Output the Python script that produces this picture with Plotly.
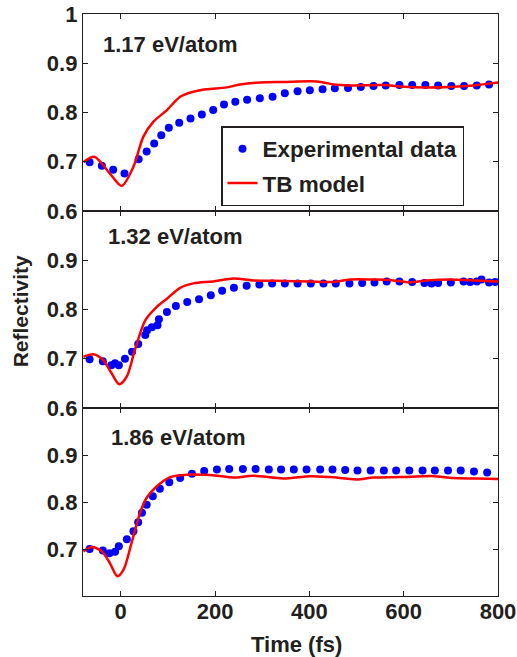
import plotly.graph_objects as go
from plotly.subplots import make_subplots

# ---------------- data ----------------
panel_labels = ["1.17 eV/atom", "1.32 eV/atom", "1.86 eV/atom"]

exp1_t = [-66, -40, -16, 8, 38, 55, 71, 86, 102, 124, 148, 172, 196, 219, 243, 268, 295, 322,
          348, 375, 401, 428, 454, 482, 509, 536, 562, 591, 618, 646, 673, 701, 728, 755, 781]
exp1_r = [0.699, 0.692, 0.684, 0.676, 0.705, 0.721, 0.737, 0.754, 0.769, 0.779, 0.788, 0.796,
          0.805, 0.816, 0.822, 0.826, 0.829, 0.832, 0.839, 0.843, 0.845, 0.847, 0.849, 0.850,
          0.852, 0.854, 0.855, 0.856, 0.856, 0.856, 0.855, 0.854, 0.854, 0.855, 0.857]
tb1_t = [-79, -56, -23, 2, 27, 48, 69, 98, 126, 154, 182, 225, 253, 295, 345, 416, 451, 486,
         557, 592, 649, 698, 748, 801]
tb1_r = [0.699, 0.710, 0.676, 0.651, 0.690, 0.751, 0.781, 0.805, 0.832, 0.842, 0.847, 0.851,
         0.857, 0.861, 0.862, 0.863, 0.857, 0.855, 0.856, 0.853, 0.851, 0.852, 0.855, 0.861]

exp2_t = [-66, -38, -20, -12, -4, 9, 24, 37, 52, 56, 66, 78, 81, 98, 117, 141, 166, 191, 215,
          240, 267, 294, 321, 348, 375, 403, 430, 456, 485, 512, 538, 564, 591, 618, 644, 659,
          673, 700, 727, 741, 755, 765, 781, 794]
exp2_r = [0.699, 0.695, 0.687, 0.691, 0.687, 0.700, 0.714, 0.730, 0.748, 0.758, 0.764, 0.768,
          0.780, 0.795, 0.807, 0.815, 0.821, 0.829, 0.838, 0.844, 0.848, 0.851, 0.853, 0.853,
          0.853, 0.853, 0.853, 0.853, 0.853, 0.854, 0.855, 0.857, 0.857, 0.856, 0.854, 0.853,
          0.854, 0.855, 0.857, 0.856, 0.857, 0.861, 0.855, 0.856]
tb2_t = [-79, -58, -37, -19, -3, 13, 30, 52, 76, 98, 126, 154, 196, 239, 281, 345, 401, 451,
         486, 535, 571, 613, 649, 698, 748, 801]
tb2_r = [0.704, 0.709, 0.697, 0.670, 0.648, 0.664, 0.718, 0.778, 0.805, 0.822, 0.844, 0.853,
         0.857, 0.863, 0.859, 0.858, 0.857, 0.856, 0.861, 0.861, 0.860, 0.855, 0.859, 0.861,
         0.859, 0.857]

exp3_t = [-66, -38, -24, -12, -4, 13, 27, 37, 45, 55, 68, 83, 103, 126, 151, 177, 204, 230,
          259, 286, 314, 340, 367, 394, 423, 449, 476, 502, 530, 558, 584, 612, 640, 666, 694,
          721, 749, 777]
exp3_r = [0.700, 0.697, 0.691, 0.694, 0.706, 0.721, 0.738, 0.757, 0.777, 0.794, 0.812, 0.828,
          0.842, 0.851, 0.860, 0.866, 0.869, 0.870, 0.870, 0.870, 0.869, 0.869, 0.869, 0.869,
          0.869, 0.869, 0.868, 0.867, 0.867, 0.867, 0.867, 0.867, 0.867, 0.867, 0.867, 0.867,
          0.865, 0.863]
tb3_t = [-79, -61, -40, -23, -7, 6, 23, 41, 55, 76, 105, 140, 204, 239, 281, 345, 401, 444,
         500, 535, 592, 663, 705, 755, 801]
tb3_r = [0.695, 0.704, 0.695, 0.670, 0.642, 0.656, 0.713, 0.777, 0.809, 0.833, 0.853, 0.858,
         0.856, 0.852, 0.856, 0.850, 0.855, 0.853, 0.848, 0.852, 0.853, 0.855, 0.851, 0.850,
         0.849]

x_ticks = [0, 200, 400, 600, 800]
y_ticks_top = [0.6, 0.7, 0.8, 0.9, 1.0]
y_ticks_mid = [0.6, 0.7, 0.8, 0.9]
y_ticks_bot = [0.7, 0.8, 0.9]

# ---------------- style ----------------
FONT = "Liberation Sans, Arial, Helvetica, sans-serif"
TXT = "#231f20"
BLUE = "#0000ff"
RED = "#ff0000"
PLOT_H = 582.0

fig = make_subplots(rows=3, cols=1, shared_xaxes=True, vertical_spacing=0)

exps = [(exp1_t, exp1_r), (exp2_t, exp2_r), (exp3_t, exp3_r)]
tbs = [(tb1_t, tb1_r), (tb2_t, tb2_r), (tb3_t, tb3_r)]
for i in range(3):
    fig.add_trace(go.Scatter(x=exps[i][0], y=exps[i][1], mode="markers",
                             marker=dict(color=BLUE, size=8),
                             name="Experimental data", legendgroup="exp",
                             showlegend=(i == 0)),
                  row=i + 1, col=1)
    fig.add_trace(go.Scatter(x=tbs[i][0], y=tbs[i][1], mode="lines",
                             line=dict(color=RED, width=2.5, shape="spline", smoothing=0.8),
                             name="TB model", legendgroup="tb",
                             showlegend=(i == 0)),
                  row=i + 1, col=1)

axfont = dict(family=FONT, size=22, color=TXT, weight="bold")
common_x = dict(range=[-80, 800], tickvals=x_ticks, ticks="inside", ticklen=5,
                tickcolor=TXT, tickwidth=1.2, showline=True, linecolor=TXT,
                linewidth=1.3, mirror="ticks", showgrid=False, zeroline=False,
                tickfont=axfont, automargin=False)
fig.update_xaxes(**common_x)
fig.update_xaxes(showticklabels=False, row=1, col=1)
fig.update_xaxes(showticklabels=False, row=2, col=1)
fig.update_xaxes(showticklabels=True, ticklabelstandoff=-5, row=3, col=1)

common_y = dict(range=[0.6, 1.0], ticks="inside", ticklen=5, tickcolor=TXT,
                tickwidth=1.2, showline=True, linecolor=TXT, linewidth=1.3,
                mirror="ticks", showgrid=False, zeroline=False, tickfont=axfont,
                automargin=False)
fig.update_yaxes(**common_y)
d1 = 188 / PLOT_H
d2 = 385 / PLOT_H
fig.update_yaxes(tickvals=y_ticks_top, ticktext=["0.6", "0.7", "0.8", "0.9", "1"],
                 domain=[d2, 1.0], row=1, col=1)
fig.update_yaxes(tickvals=y_ticks_mid, ticktext=["0.6", "0.7", "0.8", "0.9"],
                 domain=[d1, d2], row=2, col=1)
fig.update_yaxes(tickvals=y_ticks_bot, ticktext=["0.7", "0.8", "0.9"],
                 domain=[0.0, d1], row=3, col=1)

lab_pos = [(-42, 0.939, "x", "y"), (-32, 0.949, "x2", "y2"), (-25, 0.938, "x3", "y3")]
for (xx, yy, xr, yr), txt in zip(lab_pos, panel_labels):
    fig.add_annotation(x=xx, y=yy, xref=xr, yref=yr, text=txt, showarrow=False,
                       xanchor="left", yanchor="middle",
                       font=dict(family=FONT, size=22, color=TXT, weight="bold"))

fig.add_annotation(x=-0.152, y=0.489, xref="paper", yref="paper", text="Reflectivity",
                   textangle=-90, showarrow=False, xanchor="center", yanchor="middle",
                   font=dict(family=FONT, size=21, color=TXT, weight="bold"))
fig.add_annotation(x=0.515, y=-0.084, xref="paper", yref="paper", text="Time (fs)",
                   showarrow=False, xanchor="center", yanchor="middle",
                   font=dict(family=FONT, size=22, color=TXT, weight="bold"))

fig.update_layout(
    width=517, height=657,
    margin=dict(l=83, r=19, t=14, b=61, autoexpand=False),
    paper_bgcolor="white", plot_bgcolor="white",
    showlegend=True,
    legend=dict(x=(221 - 83) / 415, y=(596 - 126) / PLOT_H, xanchor="left", yanchor="top",
                bgcolor="white", bordercolor=TXT, borderwidth=1.5,
                font=dict(family=FONT, size=22.5, color=TXT, weight="bold"),
                tracegroupgap=2),
)

fig.write_html("out.html")
